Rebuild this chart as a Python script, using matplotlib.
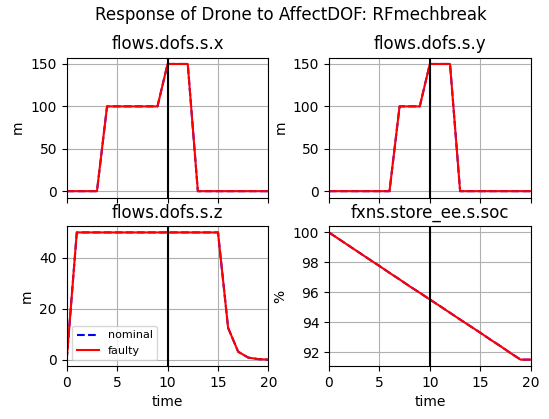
import matplotlib
matplotlib.use("Agg")
import matplotlib.pyplot as plt

time = list(range(21))
pos_x = [0, 0, 0, 0, 100, 100, 100, 100, 100, 100, 150, 150, 150, 0, 0, 0, 0, 0, 0, 0, 0]
pos_y = [0, 0, 0, 0, 0, 0, 0, 100, 100, 100, 150, 150, 150, 0, 0, 0, 0, 0, 0, 0, 0]
pos_z = [0, 50, 50, 50, 50, 50, 50, 50, 50, 50, 50, 50, 50, 50, 50, 50, 12.5, 3.1, 0.8, 0.2, 0.0]
soc = [100, 99.55, 99.1, 98.65, 98.2, 97.76, 97.3, 96.86, 96.4, 95.97, 95.52,
       95.08, 94.63, 94.18, 93.74, 93.3, 92.84, 92.4, 91.94, 91.5, 91.5]

titles = ["flows.dofs.s.x", "flows.dofs.s.y", "flows.dofs.s.z", "fxns.store_ee.s.soc"]
ylabels = ["m", "m", "m", "%"]
series = [pos_x, pos_y, pos_z, soc]
fault_time = 10

fig, axes = plt.subplots(2, 2, figsize=(5.49, 4.19), dpi=100, sharex=True)
fig.subplots_adjust(left=0.1215, right=0.9667, top=0.8625, bottom=0.1265,
                    wspace=0.30, hspace=0.204)
for ax, vals, t, yl in zip(axes.flat, series, titles, ylabels):
    ax.plot(time, vals, color="blue", linestyle="--", linewidth=1.5, label="nominal")
    ax.plot(time, vals, color="red", linestyle="-", linewidth=1.5, label="faulty")
    ax.axvline(fault_time, color="black", linewidth=1.5)
    ax.set_title(t)
    ax.set_ylabel(yl)
    ax.grid(True)
    ax.set_xlim(0, 20)
    ax.set_xticks([0, 5, 10, 15, 20])

for ax in axes[1]:
    ax.set_xlabel("time")

axes[1, 0].legend(loc="lower left", fontsize=8)
fig.suptitle("Response of Drone to AffectDOF: RFmechbreak", x=0.53, y=0.985)
fig.savefig("out.png", dpi=100)
